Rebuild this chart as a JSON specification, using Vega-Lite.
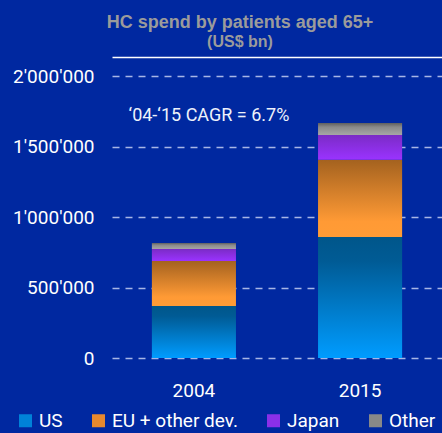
{
  "$schema": "https://vega.github.io/schema/vega-lite/v6.json",
  "width": 330,
  "height": 282,
  "autosize": {"type": "none"},
  "padding": {"left": 112, "top": 76, "right": 0, "bottom": 75},
  "background": "#0028A0",
  "config": {
    "view": {"stroke": null},
    "font": "Roboto",
    "locale": {"number": {"decimal": ".", "thousands": "'", "grouping": [3], "currency": ["$", ""]}}
  },
  "title": {
    "text": "HC spend by patients aged 65+",
    "subtitle": "(US$ bn)",
    "font": "Liberation Sans",
    "fontSize": 18,
    "fontWeight": "bold",
    "color": "#9b9b9b",
    "subtitleFont": "Liberation Sans",
    "subtitleFontSize": 16,
    "subtitleFontWeight": "bold",
    "subtitleColor": "#9b9b9b",
    "subtitlePadding": 2,
    "anchor": "middle",
    "dx": -37,
    "offset": 7
  },
  "data": {
    "values": [
      {"year": "2004", "region": "US", "value": 369000},
      {"year": "2004", "region": "EU + other dev.", "value": 319000},
      {"year": "2004", "region": "Japan", "value": 85000},
      {"year": "2004", "region": "Other", "value": 43000},
      {"year": "2015", "region": "US", "value": 858000},
      {"year": "2015", "region": "EU + other dev.", "value": 548000},
      {"year": "2015", "region": "Japan", "value": 176000},
      {"year": "2015", "region": "Other", "value": 85000}
    ]
  },
  "resolve": {"axis": {"x": "independent"}},
  "layer": [
    {
      "mark": {"type": "bar"},
      "encoding": {
        "x": {
          "field": "year",
          "type": "nominal",
          "scale": {"paddingInner": 0.494, "paddingOuter": 0.24},
          "axis": {
            "orient": "bottom",
            "domain": false,
            "ticks": false,
            "labelPadding": 23,
            "labelFontSize": 19,
            "labelColor": "#ffffff",
            "labelFont": "Roboto",
            "labelAngle": 0,
            "title": null
          }
        },
        "y": {
          "field": "value",
          "type": "quantitative",
          "stack": "zero",
          "scale": {"domain": [0, 2000000], "nice": false},
          "axis": {
            "values": [0, 500000, 1000000, 1500000, 2000000],
            "format": ",d",
            "domain": false,
            "ticks": false,
            "labelPadding": 18,
            "labelFontSize": 19,
            "labelFont": "Roboto",
            "labelColor": "#ffffff",
            "grid": true,
            "gridColor": "#a8b6e6",
            "gridDash": [7, 6],
            "gridWidth": 1.5,
            "title": null
          }
        },
        "detail": {"field": "region"},
        "order": {"field": "value", "type": "quantitative", "sort": "descending"},
        "fill": {
          "condition": [
            {"test": "datum.region === 'US'", "value": {"gradient": "linear", "x1": 0, "y1": 0, "x2": 0, "y2": 1, "stops": [{"offset": 0, "color": "#00568a"}, {"offset": 0.2, "color": "#005b95"}, {"offset": 1, "color": "#009cff"}]}},
            {"test": "datum.region === 'EU + other dev.'", "value": {"gradient": "linear", "x1": 0, "y1": 0, "x2": 0, "y2": 1, "stops": [{"offset": 0, "color": "#a4621f"}, {"offset": 0.8, "color": "#ff9a35"}, {"offset": 1, "color": "#ff9c36"}]}},
            {"test": "datum.region === 'Japan'", "value": {"gradient": "linear", "x1": 0, "y1": 0, "x2": 0, "y2": 1, "stops": [{"offset": 0, "color": "#7b2bc6"}, {"offset": 1, "color": "#9a33ff"}]}}
          ],
          "value": {"gradient": "linear", "x1": 0, "y1": 0, "x2": 0, "y2": 1, "stops": [{"offset": 0, "color": "#5e5e5e"}, {"offset": 0.35, "color": "#8a8a8a"}, {"offset": 1, "color": "#a6a6a6"}]}
        }
      }
    },
    {
      "transform": [{"filter": "false"}],
      "mark": {"type": "square", "opacity": 1},
      "encoding": {
        "color": {
          "field": "region",
          "type": "nominal",
          "scale": {
            "domain": ["US", "EU + other dev.", "Japan", "Other"],
            "range": ["#0082d8", "#e8892e", "#8a30e8", "#888888"]
          },
          "legend": {
            "orient": "none",
            "legendX": -96,
            "legendY": 335,
            "direction": "horizontal",
            "title": null,
            "symbolType": "square",
            "symbolSize": 169,
            "symbolStrokeWidth": 0,
            "symbolOpacity": 1,
            "labelFontSize": 19,
            "labelFont": "Roboto",
            "labelColor": "#ffffff",
            "labelOffset": 4,
            "columnPadding": 26,
            "padding": 0
          }
        }
      }
    },
    {
      "data": {"values": [{"label": "‘04-‘15 CAGR = 6.7%"}]},
      "mark": {"type": "text", "fontSize": 18, "font": "Roboto", "color": "#eef2fb", "align": "center", "baseline": "middle", "dx": 15},
      "encoding": {
        "x": {
          "datum": "2004",
          "axis": {
            "orient": "top",
            "offset": 19,
            "domain": true,
            "domainColor": "#ffffff",
            "domainWidth": 1.5,
            "labels": false,
            "ticks": false,
            "grid": false,
            "title": null
          }
        },
        "y": {"datum": 1716000},
        "text": {"field": "label"}
      }
    }
  ]
}
